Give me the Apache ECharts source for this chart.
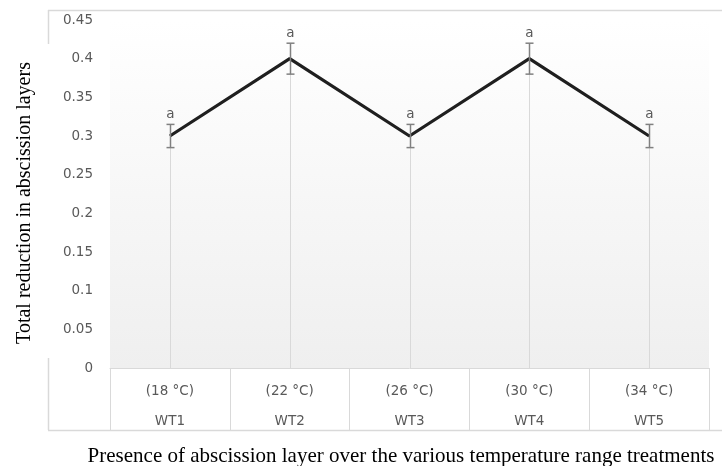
<!DOCTYPE html>
<html>
<head>
<meta charset="utf-8">
<script src="https://cdn.jsdelivr.net/npm/echarts@6/dist/echarts.min.js"></script>
<style>
html,body{margin:0;padding:0;background:#fff;}
#chart{width:722px;height:466px;}
</style>
</head>
<body>
<div id="chart"></div>
<script>
var categories = ['WT1', 'WT2', 'WT3', 'WT4', 'WT5'];
var temperatures = ['(18 °C)', '(22 °C)', '(26 °C)', '(30 °C)', '(34 °C)'];
var values = [0.3, 0.4, 0.3, 0.4, 0.3];
var errors = [0.015, 0.02, 0.015, 0.02, 0.015];
var letters = ['a', 'a', 'a', 'a', 'a'];
var yTicks = [0, 0.05, 0.1, 0.15, 0.2, 0.25, 0.3, 0.35, 0.4, 0.45];

var chart = echarts.init(document.getElementById('chart'), null, {renderer: 'canvas'});
var tickFont = '"DejaVu Sans", sans-serif';
var serif = '"Liberation Serif", serif';
var txtColor = '#595959';
var borderColor = '#d9d9d9';

var errData = values.map(function (v, i) { return [i, v, errors[i], letters[i]]; });
var dropData = values.map(function (v, i) { return [i, v]; });

var option = {
  animation: false,
  grid: {
    left: 110, right: 13, top: 20, bottom: 98,
    show: true, borderWidth: 0,
    backgroundColor: new echarts.graphic.LinearGradient(0, 0, 0, 1, [
      {offset: 0, color: '#ffffff'},
      {offset: 1, color: '#efefef'}
    ])
  },
  xAxis: {
    type: 'category',
    data: categories,
    boundaryGap: true,
    axisLine: {show: true, lineStyle: {color: borderColor, width: 1}},
    axisTick: {show: true, length: 62, interval: 0, lineStyle: {color: borderColor, width: 1}},
    axisLabel: {
      interval: 0,
      margin: 8,
      formatter: function (val, idx) {
        return '{t|' + temperatures[idx] + '}\n{w|' + val + '}';
      },
      rich: {
        t: {fontFamily: tickFont, fontSize: 13.5, color: txtColor, lineHeight: 30},
        w: {fontFamily: tickFont, fontSize: 13.5, color: txtColor, lineHeight: 30}
      }
    },
    splitLine: {show: false}
  },
  yAxis: {
    type: 'value',
    min: 0, max: 0.45, interval: 0.05,
    axisLine: {show: false},
    axisTick: {show: false},
    splitLine: {show: false},
    axisLabel: {
      margin: 17,
      fontFamily: tickFont, fontSize: 13.5, color: txtColor,
      formatter: function (v) {
        var best = yTicks.reduce(function (a, b) { return Math.abs(b - v) < Math.abs(a - v) ? b : a; });
        return String(best);
      }
    }
  },
  graphic: [
    {type: 'line', shape: {x1: 48, y1: 10.5, x2: 722, y2: 10.5}, style: {stroke: borderColor, lineWidth: 1.5}, silent: true},
    {type: 'line', shape: {x1: 48.5, y1: 10, x2: 48.5, y2: 44}, style: {stroke: borderColor, lineWidth: 1.5}, silent: true},
    {type: 'line', shape: {x1: 48.5, y1: 358, x2: 48.5, y2: 430}, style: {stroke: borderColor, lineWidth: 1.5}, silent: true},
    {type: 'line', shape: {x1: 48, y1: 430.5, x2: 722, y2: 430.5}, style: {stroke: borderColor, lineWidth: 1.5}, silent: true},
    {type: 'text', x: 25, y: 203, rotation: Math.PI / 2,
      style: {text: 'Total reduction in abscission layers', font: '20px ' + serif, fill: '#000', align: 'center', verticalAlign: 'middle'}},
    {type: 'text', x: 401, y: 456,
      style: {text: 'Presence of abscission layer over the various temperature range treatments', font: '21px ' + serif, fill: '#000', align: 'center', verticalAlign: 'middle'}}
  ],
  series: [
    {
      type: 'custom',
      z: 1,
      data: dropData,
      renderItem: function (params, api) {
        var top = api.coord([api.value(0), api.value(1)]);
        var bot = api.coord([api.value(0), 0]);
        return {
          type: 'line',
          shape: {x1: Math.round(top[0]) + 0.5, y1: top[1], x2: Math.round(bot[0]) + 0.5, y2: bot[1]},
          style: {stroke: '#d9d9d9', lineWidth: 1}
        };
      }
    },
    {
      type: 'line',
      z: 3,
      data: values,
      showSymbol: false,
      symbol: 'none',
      lineStyle: {color: '#1f1f1f', width: 3.2}
    },
    {
      type: 'custom',
      z: 4,
      data: errData,
      renderItem: function (params, api) {
        var x = api.value(0), v = api.value(1), e = api.value(2);
        var hi = api.coord([x, v + e]);
        var lo = api.coord([x, v - e]);
        var cx = Math.round(hi[0]) + 0.5;
        var cap = 4;
        var st = {stroke: '#808080', lineWidth: 1.5};
        return {
          type: 'group',
          children: [
            {type: 'line', shape: {x1: cx, y1: hi[1], x2: cx, y2: lo[1]}, style: st},
            {type: 'line', shape: {x1: cx - cap, y1: hi[1], x2: cx + cap, y2: hi[1]}, style: st},
            {type: 'line', shape: {x1: cx - cap, y1: lo[1], x2: cx + cap, y2: lo[1]}, style: st},
            {type: 'text', x: cx, y: hi[1] - 3,
              style: {text: letters[params.dataIndex], font: '13.5px ' + tickFont, fill: txtColor, align: 'center', verticalAlign: 'bottom'}}
          ]
        };
      }
    }
  ]
};
chart.setOption(option);
</script>
</body>
</html>
